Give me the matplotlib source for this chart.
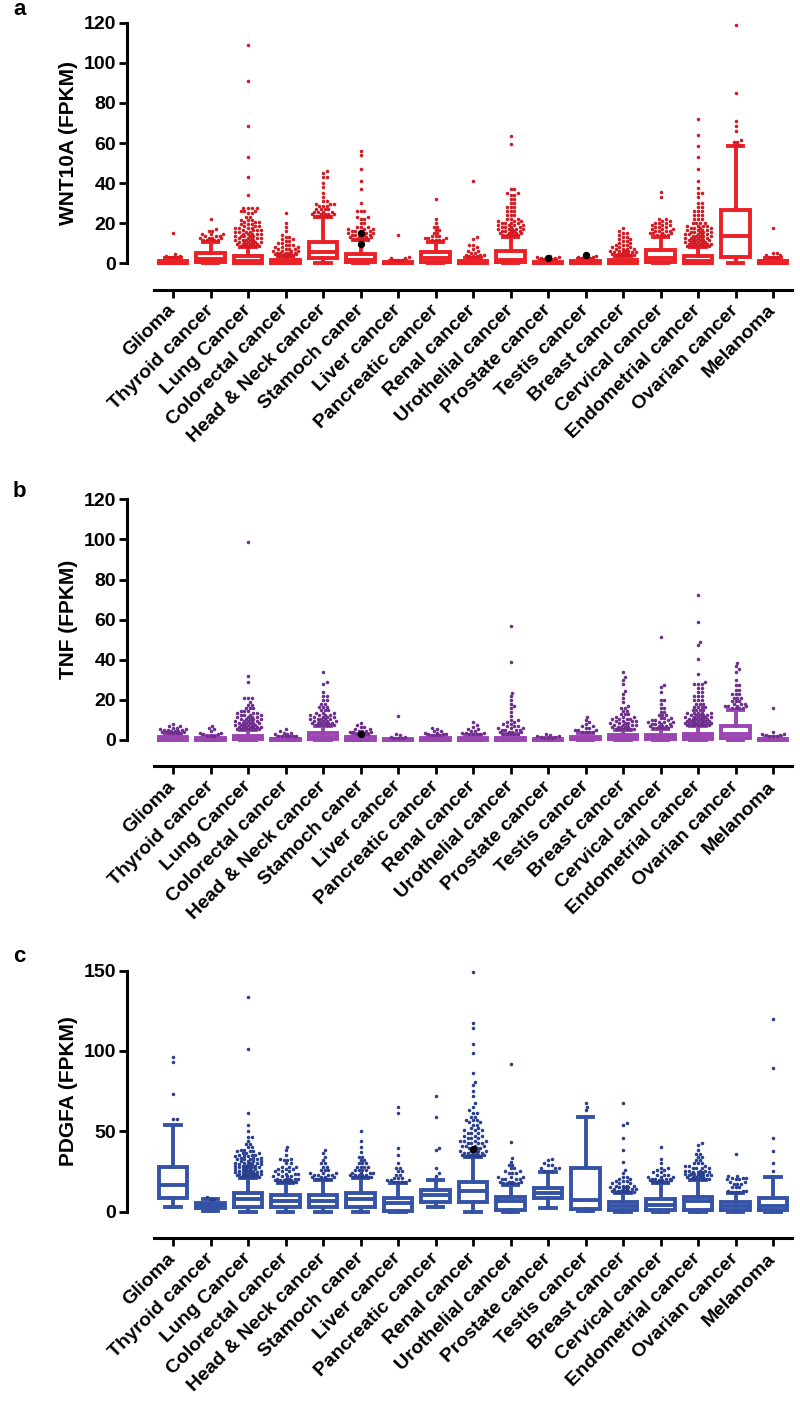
import numpy as np
import matplotlib
matplotlib.use("Agg")
import matplotlib.pyplot as plt

plt.rcParams['font.family'] = ['Liberation Sans', 'DejaVu Sans']
plt.rcParams['font.weight'] = 'bold'

CANCERS = ["Glioma", "Thyroid cancer", "Lung Cancer", "Colorectal cancer",
           "Head & Neck cancer", "Stamoch caner", "Liver cancer",
           "Pancreatic cancer", "Renal cancer", "Urothelial cancer",
           "Prostate cancer", "Testis cancer", "Breast cancer",
           "Cervical cancer", "Endometrial cancer", "Ovarian cancer",
           "Melanoma"]

# ---- panel a: WNT10A box stats ----
WNT_LO  = [0, 0, 0, 0, 0, 0, 0, 0, 0, 0, 0, 0, 0, 0, 0, 0, 0]
WNT_Q1  = [0.1, 0.5, 0.3, 0.2, 2.5, 0.4, 0.05, 0.8, 0.1, 0.5, 0.1, 0.1, 0.2, 0.8, 0.3, 3.3, 0.1]
WNT_MED = [0.3, 2.0, 1.2, 0.6, 5.8, 1.8, 0.2, 2.8, 0.4, 1.6, 0.3, 0.4, 0.6, 2.8, 1.2, 13.6, 0.3]
WNT_Q3  = [1.0, 5.0, 3.8, 1.6, 10.8, 4.6, 0.5, 5.8, 1.2, 6.3, 0.8, 1.0, 1.6, 6.8, 3.8, 26.6, 1.0]
WNT_HI  = [2.5, 10.8, 8.0, 3.5, 23, 11.5, 1.2, 10.8, 2.8, 13.3, 1.8, 2.2, 3.8, 13, 8.0, 58.5, 2.5]
# outliers as (FPKM level, number of samples)
WNT_OUT = [
    [(3, 3), (3.5, 2), (4.5, 1), (15, 1)],
    [(11.5, 5), (12.5, 4), (13.5, 3), (14.5, 3), (16, 2), (17, 1), (22, 1)],
    [(8.5, 6), (9.5, 6), (10.5, 6), (11.5, 5), (12.5, 5), (13.5, 5), (14.5, 5),
     (15.5, 4), (16.5, 4), (17.5, 4), (18.5, 3), (19.5, 3), (20.5, 3), (21.5, 3),
     (23, 2), (25, 2), (26, 3), (27.5, 4), (34, 1), (43, 1), (53, 1), (68.5, 1),
     (91, 1), (109, 1)],
    [(3.8, 5), (4.5, 5), (5.2, 5), (6, 4), (7, 4), (8, 3), (9, 3), (10, 2),
     (11, 2), (12, 2), (13, 2), (14, 1), (16, 1), (18, 1), (20, 1), (25, 1)],
    [(23.5, 5), (24.5, 5), (25.5, 4), (27, 4), (28.5, 3), (29.5, 3), (31, 2),
     (33, 1), (35, 1), (38, 1), (40, 1), (43, 2), (45, 1), (46, 1)],
    [(12, 5), (13, 5), (14, 5), (15, 5), (16, 4), (17, 3), (18, 3), (20, 2),
     (22, 2), (23, 2), (26, 3), (30, 1), (37, 1), (41, 1), (47, 1), (54, 1), (56, 1)],
    [(1.8, 3), (2.4, 2), (3, 1), (14, 1)],
    [(11.5, 4), (12.5, 3), (13.5, 3), (15, 2), (16.5, 2), (18, 2), (20, 1),
     (22, 1), (32, 1)],
    [(3.4, 3), (4, 3), (5, 2), (6, 2), (7, 1), (8, 1), (9, 2), (12, 1), (13, 1), (41, 1)],
    [(14, 5), (15, 5), (16, 5), (17, 5), (18, 4), (19, 4), (20, 4), (21, 3),
     (22, 3), (24, 3), (26, 3), (28, 3), (30, 2), (32, 2), (34, 2), (35, 2),
     (37, 2), (59.5, 1), (63.5, 1)],
    [(2.2, 3), (2.8, 2), (3.2, 2), (3.6, 1)],
    [(2.6, 3), (3.2, 2), (3.6, 1)],
    [(4.2, 6), (4.8, 5), (5.4, 5), (6, 4), (7, 4), (8, 3), (9, 3), (10, 2),
     (11, 2), (12, 2), (13, 2), (14, 1), (15, 2), (16, 1), (17.5, 1)],
    [(14, 4), (15, 4), (16, 4), (17, 3), (18, 3), (19, 3), (20, 3), (21, 2),
     (22, 2), (33, 1), (35.5, 1)],
    [(8.5, 7), (9.5, 7), (10.5, 6), (11.5, 6), (12.5, 6), (13.5, 5), (14.5, 5),
     (15.5, 5), (16.5, 4), (17.5, 4), (18.5, 4), (20, 4), (22, 3), (24, 3),
     (26, 3), (28, 2), (30, 2), (33, 1), (35, 2), (37.5, 1), (41, 1), (47, 1),
     (53, 1), (58.5, 1), (64, 1), (72, 1)],
    [(59, 2), (60.5, 2), (61.5, 1), (66, 1), (68.5, 1), (71, 1), (85, 1), (118.7, 1)],
    [(3, 3), (4, 2), (5, 2), (17.5, 1)],
]
WNT_MARK = [(5, 9.5), (5, 15), (10, 2.5), (11, 4)]

# ---- panel b: TNF box stats ----
TNF_LO  = [0, 0, 0, 0, 0, 0, 0, 0, 0, 0, 0, 0, 0, 0, 0, 0, 0]
TNF_Q1  = [0.2, 0.1, 0.3, 0.1, 0.6, 0.2, 0.05, 0.2, 0.2, 0.2, 0.05, 0.3, 0.4, 0.4, 0.5, 1.2, 0.1]
TNF_MED = [0.6, 0.3, 0.9, 0.3, 1.6, 0.5, 0.1, 0.5, 0.5, 0.5, 0.2, 0.7, 1.0, 1.1, 1.3, 3.2, 0.3]
TNF_Q3  = [1.4, 0.8, 2.2, 0.7, 3.4, 1.3, 0.3, 1.0, 1.1, 1.2, 0.4, 1.6, 2.4, 2.6, 3.0, 7.2, 0.7]
TNF_HI  = [3.0, 1.8, 4.8, 1.5, 7.0, 2.8, 0.7, 2.2, 2.4, 2.8, 1.0, 3.4, 5.0, 5.6, 6.8, 15, 1.5]
TNF_OUT = [
    [(3.5, 4), (4, 3), (4.5, 3), (5, 3), (5.5, 2), (6, 2), (7, 2), (8, 1)],
    [(2.2, 3), (2.8, 2), (3.5, 2), (4.5, 1), (5.5, 1), (6, 1), (7, 1)],
    [(5.5, 7), (6.5, 7), (7.5, 6), (8.5, 6), (9.5, 5), (10.5, 5), (11.5, 4),
     (12.5, 4), (13.5, 3), (14.5, 3), (16, 3), (17.5, 2), (19, 1), (21, 3),
     (29, 1), (32, 1), (98.8, 1)],
    [(1.8, 3), (2.2, 3), (2.8, 2), (3.5, 2), (4.5, 1), (5.5, 1)],
    [(7.5, 6), (8.5, 6), (9.5, 5), (10.5, 5), (11.5, 4), (12.5, 4), (13.5, 3),
     (15, 3), (16.5, 3), (18, 2), (20, 2), (22, 2), (24, 1), (28, 1), (29, 1), (34, 1)],
    [(3.2, 4), (3.8, 3), (4.5, 3), (5.5, 2), (6.5, 2), (7.5, 1), (8.5, 1)],
    [(1, 3), (1.5, 2), (2.5, 1), (3, 1), (12, 1)],
    [(2.5, 3), (3, 3), (3.5, 2), (4.5, 2), (5.5, 1), (6, 1)],
    [(2.8, 4), (3.5, 3), (4.5, 2), (5.5, 2), (6.5, 1), (7.5, 1), (9, 1)],
    [(3.2, 5), (4, 4), (5, 4), (6, 3), (7, 3), (8, 2), (9, 2), (10, 2), (12, 1),
     (14, 1), (16, 1), (17, 1), (18, 1), (20, 1), (22, 1), (23.5, 1), (39, 1), (57, 1)],
    [(1.2, 3), (1.6, 2), (2, 2), (2.5, 1), (3, 1)],
    [(4, 4), (5, 3), (6, 2), (7, 2), (8, 1), (9, 1), (10, 1), (11.5, 1)],
    [(5.5, 6), (6.5, 5), (7.5, 5), (8.5, 4), (9.5, 4), (10.5, 4), (11.5, 3),
     (13, 3), (14.5, 2), (16, 2), (17, 1), (19, 1), (21, 1), (23, 1), (24.5, 1),
     (28, 1), (30, 1), (31.6, 1), (33.9, 1)],
    [(6, 5), (7, 5), (8, 4), (9, 4), (10, 3), (11, 3), (12.5, 3), (14, 2),
     (16, 2), (18, 1), (20, 2), (24, 1), (26.6, 1), (27.5, 1), (51.5, 1)],
    [(7.5, 8), (8.5, 8), (9.5, 7), (10.5, 6), (11.5, 6), (12.5, 5), (13.5, 5),
     (15, 4), (16.5, 4), (18, 3), (20, 3), (22, 3), (24, 2), (26, 2), (27.8, 3),
     (29, 1), (33, 1), (40.4, 1), (47.4, 1), (48.9, 1), (58.6, 1), (72.2, 1)],
    [(16, 4), (17, 4), (18, 3), (19.5, 3), (21, 3), (23, 3), (25, 2), (27.6, 2),
     (30, 1), (34, 1), (35.4, 1), (36.9, 1), (38.6, 1)],
    [(1.8, 3), (2.5, 2), (3, 2), (4, 1), (16.1, 1)],
]
TNF_MARK = [(5, 3)]

# ---- panel c: PDGFA box stats ----
PDG_LO  = [2.6, 0.5, 0, 0, 0, 0, 0, 3.0, 0, 0, 2.0, 0.5, 0, 0, 0, 0, 0]
PDG_Q1  = [8.2, 2.0, 3.0, 2.6, 2.6, 2.6, 0.5, 6.1, 6.1, 1.0, 8.2, 1.5, 1.0, 1.0, 1.0, 1.0, 1.0]
PDG_MED = [16.5, 3.5, 7.5, 6.5, 6.5, 7.5, 5.5, 10, 12.8, 6.5, 11.5, 7.0, 3.5, 4.0, 6.5, 3.5, 3.5]
PDG_Q3  = [27.9, 5.5, 11.3, 10.3, 10.3, 11.3, 8.5, 13.4, 18.6, 9.2, 14.5, 26.9, 6.1, 7.6, 9.2, 6.1, 8.2]
PDG_HI  = [53.9, 7.5, 20.7, 17.6, 19.6, 20.7, 17.6, 19.6, 33.7, 16.5, 24.8, 59, 11.5, 17.6, 19.6, 11.3, 21.7]
PDG_OUT = [
    [(57.5, 2), (73.5, 1), (93.3, 1), (96.5, 1)],
    [(8, 2), (9, 1)],
    [(21.5, 6), (22.5, 6), (23.5, 6), (24.5, 6), (25.5, 5), (26.5, 5), (27.5, 5),
     (28.5, 5), (29.5, 4), (30.5, 4), (31.5, 4), (32.5, 4), (33.5, 3), (34.5, 3),
     (35.5, 3), (36.5, 3), (37.5, 3), (38.5, 2), (40, 2), (42, 2), (44, 1),
     (46.6, 2), (50, 1), (54, 1), (61.2, 1), (101.2, 1), (133.5, 1)],
    [(18.5, 6), (19.5, 5), (20.5, 5), (22, 4), (23.5, 4), (25, 3), (26.5, 3),
     (28, 3), (30, 2), (32, 2), (33, 2), (35, 1), (38.3, 1), (40.4, 1)],
    [(20.5, 5), (21.5, 4), (22.7, 4), (24, 3), (25.9, 3), (28, 2), (30, 2),
     (32, 1), (34, 1), (36.2, 1), (38.3, 1)],
    [(21.7, 6), (22.7, 5), (24, 4), (25.9, 4), (27.9, 4), (30, 3), (32.1, 2),
     (34, 2), (37.3, 1), (40.4, 1), (44, 1), (50.1, 1)],
    [(18.5, 4), (19.5, 3), (21, 3), (23, 2), (25, 2), (27, 2), (30, 1), (35, 1),
     (39.5, 1), (61.3, 1), (65.3, 1)],
    [(22, 1), (23.8, 1), (26.9, 1), (38.3, 1), (39.4, 1), (59, 1), (72.2, 1)],
    [(34.5, 5), (35.5, 5), (36.5, 5), (37.5, 5), (39.4, 4), (41, 4), (42.5, 4),
     (44, 4), (45.6, 3), (47, 3), (48.7, 3), (50.5, 3), (51.8, 2), (54, 2),
     (55.5, 2), (57, 3), (59, 2), (61.3, 2), (63, 1), (65.3, 1), (67.4, 1),
     (72, 1), (75.1, 1), (78.8, 1), (80.9, 1), (86.1, 1), (98.6, 1), (104.4, 1),
     (114.5, 1), (117.3, 1), (149, 1)],
    [(17.5, 5), (18.5, 4), (20, 4), (21.7, 3), (23.8, 3), (25.5, 2), (27, 2),
     (29, 2), (31, 1), (33.1, 1), (43.5, 1), (91.7, 1)],
    [(25.5, 3), (27, 3), (29, 2), (30.5, 1), (32, 1), (33, 1)],
    [(63.2, 1), (65.3, 1), (67.8, 1)],
    [(12, 6), (13, 5), (14, 5), (15, 4), (16, 4), (17.5, 3), (19, 3), (20.5, 2),
     (21.7, 2), (24, 1), (26, 1), (30.6, 1), (38, 1), (45.6, 1), (53.6, 1),
     (55, 1), (67.8, 1)],
    [(18.5, 5), (19.5, 4), (20.5, 4), (21.7, 3), (23, 3), (24.5, 2), (26, 2),
     (27, 2), (30, 1), (33, 1), (40, 1)],
    [(20.5, 6), (21.5, 5), (22.5, 5), (23.5, 5), (24.5, 4), (25.5, 4), (27, 4),
     (28.5, 3), (30, 3), (32, 2), (34, 2), (36, 2), (38, 1), (41.4, 1), (42.9, 1)],
    [(12, 3), (13, 3), (15, 3), (17, 3), (18.5, 2), (20, 3), (21, 3), (22, 2), (35.6, 1)],
    [(25.4, 1), (30, 1), (37.7, 1), (46, 1), (89.6, 1), (120, 1)],
]
PDG_MARK = [(8, 39)]

W, H = 800, 1405
X_LEFT, X_FIRST, X_STEP = 127, 173, 37.5
DOT_D = 3.6        # px spacing between swarm dots
SWARM_HALF = 13.0  # px, max spread either side of the category centre
LW = 2.8


def swarm(vals, ypx):
    """simple beeswarm in pixel space, returns x offsets in category units"""
    order = np.argsort(vals, kind="stable")
    px, py = [], []
    offs = np.zeros(len(vals))
    cands = [0.0]
    k = 1
    while k * DOT_D / 2 <= SWARM_HALF:
        cands += [k * DOT_D / 2, -k * DOT_D / 2]
        k += 1
    for i in order:
        y = vals[i] * ypx
        best, best_d = 0.0, -1
        for c in cands:
            if px:
                d = np.min(np.hypot(np.array(px) - c, np.array(py) - y))
            else:
                d = np.inf
            if d >= DOT_D * 0.95:
                best = c
                break
            if d > best_d:
                best, best_d = c, d
        px.append(best)
        py.append(y)
        offs[i] = best / X_STEP
    return offs


def panel(top_px, zero_px, axis_px, ymax, yticks, lo, q1, med, q3, hi, out,
          marks, color, dotcolor, ylabel):
    s = (zero_px - top_px) / ymax
    ymin = -(axis_px - zero_px) / s
    xmin = (X_LEFT - X_FIRST) / X_STEP
    xmax = 16.5
    ax_w = X_FIRST + xmax * X_STEP - X_LEFT
    ax = fig.add_axes([X_LEFT / W, 1 - axis_px / H, ax_w / W, (axis_px - top_px) / H])

    stats = [dict(whislo=lo[i], q1=q1[i], med=med[i], q3=q3[i], whishi=hi[i],
                  fliers=[]) for i in range(len(CANCERS))]
    lp = dict(color=color, linewidth=LW, solid_joinstyle="miter")
    ax.bxp(stats, positions=np.arange(len(CANCERS)), widths=0.75, capwidths=0.42,
           showfliers=False, boxprops=lp, whiskerprops=lp, capprops=lp,
           medianprops=lp, manage_ticks=False)

    for i, bins in enumerate(out):
        vals = np.repeat([b[0] for b in bins], [b[1] for b in bins]).astype(float)
        offs = swarm(vals, s)
        ax.scatter(i + offs, vals, s=6.5, color=dotcolor, linewidths=0,
                   zorder=3, clip_on=False)
    for i, v in marks:
        ax.scatter([i], [v], s=28, color="black", linewidths=0, zorder=4, clip_on=False)

    ax.set_xlim(xmin, xmax)
    ax.set_ylim(ymin, ymax)
    for side in ("top", "right"):
        ax.spines[side].set_visible(False)
    ax.spines["left"].set_bounds(0, ymax)
    ax.spines["bottom"].set_bounds(-0.5, 16.5)
    for side in ("left", "bottom"):
        ax.spines[side].set_linewidth(2.2)

    ax.set_yticks(yticks)
    ax.set_xticks(np.arange(len(CANCERS)))
    ax.set_xticklabels(CANCERS, rotation=45, ha="right", va="center",
                       rotation_mode="anchor", fontsize=14, fontweight="bold")
    ax.tick_params(axis="y", direction="out", length=6, width=2, labelsize=14, pad=2)
    ax.tick_params(axis="x", direction="out", length=6, width=2, pad=7)

    ax.set_ylabel(ylabel, fontsize=15, fontweight="bold")
    yc = (axis_px - (top_px + zero_px) / 2) / (axis_px - top_px)
    ax.yaxis.set_label_coords((78 - X_LEFT) / ax_w, yc)
    return ax


fig = plt.figure(figsize=(W / 100, H / 100), dpi=100)

panel(22.7, 263.3, 289.5, 120, range(0, 121, 20), WNT_LO, WNT_Q1, WNT_MED,
      WNT_Q3, WNT_HI, WNT_OUT, WNT_MARK, "#EC2027", "#D41A22", "WNT10A (FPKM)")
panel(499.3, 740, 766, 120, range(0, 121, 20), TNF_LO, TNF_Q1, TNF_MED,
      TNF_Q3, TNF_HI, TNF_OUT, TNF_MARK, "#9B45B2", "#6E2F8C", "TNF (FPKM)")
panel(970.7, 1211.5, 1238, 150, [0, 50, 100, 150], PDG_LO, PDG_Q1, PDG_MED,
      PDG_Q3, PDG_HI, PDG_OUT, PDG_MARK, "#3553A6", "#2A3F8E", "PDGFA (FPKM)")

for letter, ypx in (("a", 15), ("b", 497), ("c", 962)):
    fig.text(13 / W, 1 - ypx / H, letter, fontsize=16, fontweight="bold",
             va="baseline", ha="left")

fig.savefig("out.png", dpi=100)
